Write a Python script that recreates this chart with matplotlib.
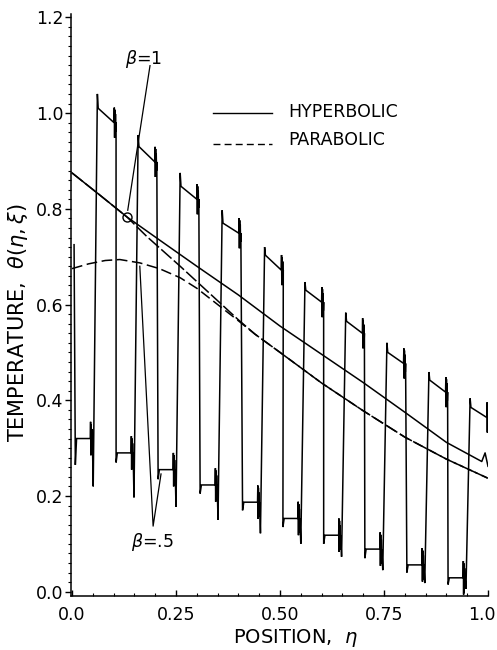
import numpy as np
import matplotlib
matplotlib.use("Agg")
import matplotlib.pyplot as plt
from matplotlib.ticker import MultipleLocator, FormatStrFormatter
from matplotlib.transforms import ScaledTranslation

plt.rcParams["font.family"] = ["DejaVu Sans"]
plt.rcParams["mathtext.fontset"] = "dejavusans"

# --- data ---
# hyperbolic, beta = 1 (upper solid)
hyp_eta = [0.0, 0.065, 0.132, 0.21, 0.30, 0.40, 0.50, 0.60, 0.70, 0.80, 0.90, 0.985, 0.993, 1.0]
hyp_theta = [0.875, 0.830, 0.783, 0.735, 0.680, 0.620, 0.555, 0.496, 0.437, 0.375, 0.312, 0.272, 0.290, 0.262]

# parabolic, beta = 1 (dashed)
par1_eta = [0.0, 0.065, 0.132, 0.18, 0.26, 0.33, 0.40, 0.44, 0.50, 0.60, 0.70, 0.80, 0.90, 1.0]
par1_theta = [0.875, 0.830, 0.783, 0.742, 0.680, 0.624, 0.568, 0.538, 0.500, 0.436, 0.378, 0.323, 0.277, 0.237]

# parabolic, beta = .5 (dashed)
par5_eta = [0.0, 0.04, 0.08, 0.115, 0.163, 0.21, 0.26, 0.30, 0.356, 0.40, 0.44, 0.50, 0.60, 0.70, 0.80, 0.90, 1.0]
par5_theta = [0.675, 0.685, 0.692, 0.694, 0.687, 0.675, 0.656, 0.634, 0.596, 0.566, 0.538, 0.500, 0.436, 0.378, 0.323, 0.277, 0.237]

# hyperbolic, beta = .5 (square wave), one entry per cycle
low_start = [0.008, 0.106, 0.207, 0.308, 0.410, 0.507, 0.605, 0.704, 0.805, 0.904]
fall_val = [0.265, 0.270, 0.235, 0.205, 0.170, 0.135, 0.100, 0.070, 0.040, 0.015]
low_val = [0.320, 0.290, 0.255, 0.223, 0.187, 0.153, 0.118, 0.089, 0.056, 0.029]
dip_val = [0.220, 0.197, 0.177, 0.150, 0.122, 0.100, 0.073, 0.045, 0.018, 0.006]
peak_val = [1.040, 0.954, 0.875, 0.797, 0.720, 0.647, 0.583, 0.520, 0.459, 0.404]
high_start = [1.010, 0.930, 0.847, 0.770, 0.703, 0.630, 0.565, 0.500, 0.442, 0.385]
high_end = [0.980, 0.898, 0.820, 0.749, 0.672, 0.605, 0.540, 0.477, 0.417, 0.364]
first_top = 0.725

x_ticks = [0.0, 0.25, 0.50, 0.75, 1.0]
x_tick_labels = ["0.0", "0.25", "0.50", "0.75", "1.0"]
y_ticks = [0.0, 0.2, 0.4, 0.6, 0.8, 1.0, 1.2]

# shape of one cycle: offsets from cycle start, and the ringing at plateau ends
RING_DT = [0.0, 0.0007, 0.0014, 0.0021, 0.0028, 0.0035, 0.0042, 0.0049]
RING_DY = [0.0, 0.035, -0.035, 0.03, -0.03, 0.02, -0.02, 0.0]


def ring(t0, level, scale):
    return [t0 + d for d in RING_DT], [level + scale * d for d in RING_DY]


def square_wave():
    xs = [low_start[0] - 0.003]
    ys = [first_top]
    for i, a in enumerate(low_start):
        lo, he = low_val[i], high_end[i]
        xs += [a, a + 0.003, a + 0.036]
        ys += [fall_val[i], lo, lo]
        rx, ry = ring(a + 0.036, lo, 1.0)
        xs += rx
        ys += ry
        xs += [a + 0.043, a + 0.053, a + 0.055, a + 0.093]
        ys += [dip_val[i], peak_val[i], high_start[i], he]
        rx, ry = ring(a + 0.093, he, 0.9)
        xs += rx
        ys += ry
    return np.array(xs), np.array(ys)


fig = plt.figure(figsize=(4.97, 6.5), dpi=100)
ax = fig.add_axes([70.5 / 497, 54 / 650, 417.5 / 497, 582 / 650])

wx, wy = square_wave()
ax.plot(wx, wy, color="black", linewidth=1.1, solid_joinstyle="miter")
ax.plot(hyp_eta, hyp_theta, color="black", linewidth=1.1)
ax.plot(par1_eta, par1_theta, color="black", linewidth=1.1, dashes=(9, 2))
ax.plot(par5_eta, par5_theta, color="black", linewidth=1.1, dashes=(7, 3))

# annotations
ax.plot([0.132], [0.783], marker="o", markersize=6.5, fillstyle="none",
        color="black", markeredgewidth=1.0)
ax.plot([0.1875, 0.134], [1.099, 0.797], color="black", linewidth=0.9)
ax.text(0.172, 1.112, r"$\beta$=1", fontsize=12.5, ha="center", va="center")
ax.plot([0.163, 0.195, 0.214], [0.680, 0.137, 0.246], color="black", linewidth=0.9)
ax.text(0.192, 0.103, r"$\beta$=.5", fontsize=12.5, ha="center", va="center")

# legend drawn by hand
ax.plot([0.341, 0.483], [0.830, 0.830], color="black", linewidth=1.0,
        transform=ax.transAxes, clip_on=False)
ax.plot([0.341, 0.483], [0.777, 0.777], color="black", linewidth=1.0,
        dashes=(5, 3), transform=ax.transAxes, clip_on=False)
ax.text(0.521, 0.832, "HYPERBOLIC", fontsize=12.5, va="center", transform=ax.transAxes)
ax.text(0.521, 0.784, "PARABOLIC", fontsize=12.5, va="center", transform=ax.transAxes)

ax.set_xlim(-0.0036, 1.0)
ax.set_ylim(-0.009, 1.207)
for side in ("top", "right"):
    ax.spines[side].set_visible(False)
for side in ("left", "bottom"):
    ax.spines[side].set_linewidth(1.1)

ax.set_xticks(x_ticks)
ax.set_xticklabels(x_tick_labels)
ax.set_yticks(y_ticks)
ax.yaxis.set_major_formatter(FormatStrFormatter("%.1f"))
ax.xaxis.set_minor_locator(MultipleLocator(0.05))
ax.yaxis.set_minor_locator(MultipleLocator(0.02))
ax.tick_params(axis="y", which="major", direction="out", length=4, width=1.0, pad=1, labelsize=12.5)
ax.tick_params(axis="y", which="minor", direction="out", length=2.5, width=0.8)
ax.tick_params(axis="x", which="major", direction="in", length=4, width=1.0, pad=7, labelsize=12.5)
ax.tick_params(axis="x", which="minor", direction="in", length=2.5, width=0.8)

# keep the last x label inside the figure
last = ax.get_xticklabels()[-1]
last.set_horizontalalignment("right")
last.set_transform(last.get_transform() + ScaledTranslation(8 / 100, 0, fig.dpi_scale_trans))

fig.text(18 / 497, 1 - 323 / 650, r"TEMPERATURE,  $\theta(\eta,\xi)$", rotation=90,
         fontsize=15, ha="center", va="center")
fig.text(296 / 497, 1 - 638 / 650, r"POSITION,  $\eta$", fontsize=14,
         ha="center", va="center")

fig.savefig("out.png", dpi=100)
